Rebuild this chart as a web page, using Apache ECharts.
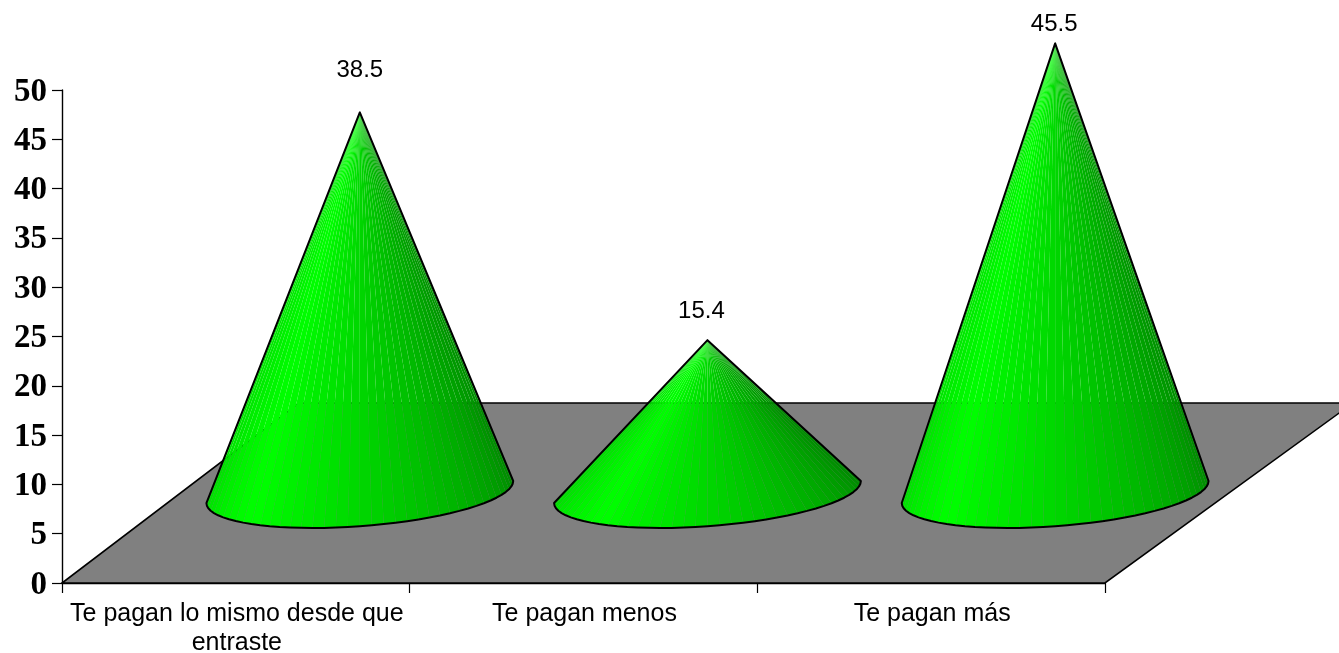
<!DOCTYPE html>
<html>
<head>
<meta charset="utf-8">
<style>html,body{margin:0;padding:0;background:#fff}#c{width:1339px;height:653px}</style>
<script src="https://cdn.jsdelivr.net/npm/echarts@6/dist/echarts.min.js"></script>
</head>
<body>
<div id="c"></div>
<script>
const categories = ['Te pagan lo mismo desde que\nentraste', 'Te pagan menos', 'Te pagan más'];
const values = [38.5, 15.4, 45.5];
const yTickMax = 50;
const yTickStep = 5;

// 3D projection of the floor and cones, as ratios of the axis scales
const DEPTH_X = 0.3566, DEPTH_Y = 9.23;     // base centre offset (band widths, value units)
const RX = 0.42, SKEW_X = 47 / 347.67, SKEW_Y = 36 / 347.67;
const FACETS = 40;
const LABEL_GAP = [[0, 42], [-6, 29], [-1, 19]];

const chart = echarts.init(document.getElementById('c'));

function shade(f) {
  const g = f < 0.25 ? 220 + (255 - 220) * f / 0.25 : 255 - (255 - 135) * (f - 0.25) / 0.75;
  return 'rgb(0,' + Math.round(g) + ',0)';
}

function renderFloor(params, api) {
  const band = api.size([1, 0])[0];
  const o = api.coord([0, 0]);
  const x0 = o[0] - band / 2, y0 = o[1];
  const x1 = x0 + band * categories.length;
  const rise = api.size([0, 1])[1] * 18.25;
  return {
    type: 'polygon',
    shape: { points: [[x0, y0], [x1, y0], [x1 + rise / 0.726, y0 - rise], [x0 + rise / 0.76, y0 - rise]] },
    style: { fill: '#808080', stroke: '#000', lineWidth: 1.6, lineJoin: 'miter' }
  };
}

function renderCone(params, api) {
  const i = api.value(0), v = api.value(1);
  const band = api.size([1, 0])[0];
  const unit = api.size([0, 1])[1];
  const foot = api.coord([i, 0]);
  const top = api.coord([i, v]);
  const dx = band * DEPTH_X, dy = unit * DEPTH_Y;
  const cx = foot[0] + dx, cy = foot[1] - dy;
  const apex = [top[0] + dx, top[1] - dy];
  const rx = band * RX, sx = band * SKEW_X, sy = band * SKEW_Y;
  const phi = Math.atan2(sx, rx);
  const pts = [];
  for (let k = 0; k <= FACETS; k++) {
    const t = phi + Math.PI + Math.PI * k / FACETS;
    pts.push([cx + rx * Math.cos(t) + sx * Math.sin(t), cy - sy * Math.sin(t)]);
  }
  const children = [];
  for (let k = 0; k < FACETS; k++) {
    children.push({
      type: 'polygon',
      shape: { points: [apex, pts[k], pts[k + 1]] },
      style: { fill: shade((k + 0.5) / FACETS) }
    });
  }
  children.push({
    type: 'polygon',
    shape: { points: [apex].concat(pts) },
    style: { fill: 'none', stroke: '#000', lineWidth: 2, lineJoin: 'round' }
  });
  const gap = LABEL_GAP[i];
  children.push({
    type: 'text',
    style: {
      x: apex[0] + gap[0], y: apex[1] - gap[1],
      text: String(v), fill: '#000',
      font: '24px "Liberation Sans", Arial, sans-serif',
      align: 'center', verticalAlign: 'middle'
    }
  });
  return { type: 'group', children: children };
}

chart.setOption({
  animation: false,
  backgroundColor: '#fff',
  grid: { left: 62, top: 90, width: 1043, height: 493, containLabel: false, outerBoundsMode: 'none' },
  xAxis: {
    type: 'category',
    data: categories,
    boundaryGap: true,
    axisLine: { show: true, lineStyle: { color: '#000', width: 1.4 } },
    axisTick: { show: true, length: 10, alignWithLabel: false, lineStyle: { color: '#000', width: 1.2 } },
    axisLabel: {
      interval: 0, color: '#000', margin: 17, lineHeight: 29, padding: [0, 0, 0, 2],
      fontFamily: '"Liberation Sans", Arial, sans-serif', fontSize: 25
    },
    splitLine: { show: false }
  },
  yAxis: {
    type: 'value', min: 0, max: yTickMax, interval: yTickStep,
    axisLine: { show: true, lineStyle: { color: '#000', width: 1.4 } },
    axisTick: { show: true, length: 10, lineStyle: { color: '#000', width: 1.2 } },
    axisLabel: {
      color: '#000', margin: 15, verticalAlign: 'top', lineHeight: 4,
      fontFamily: '"Liberation Serif", "Times New Roman", serif', fontWeight: 'bold', fontSize: 33
    },
    splitLine: { show: false }
  },
  series: [
    { type: 'custom', name: 'floor', silent: true, z: 1, data: [[0, 0]], encode: { x: 0, y: 1 }, renderItem: renderFloor },
    { type: 'custom', name: 'cones', silent: true, z: 2, data: values.map((v, i) => [i, v]), encode: { x: 0, y: 1 }, renderItem: renderCone }
  ]
});
</script>
</body>
</html>
